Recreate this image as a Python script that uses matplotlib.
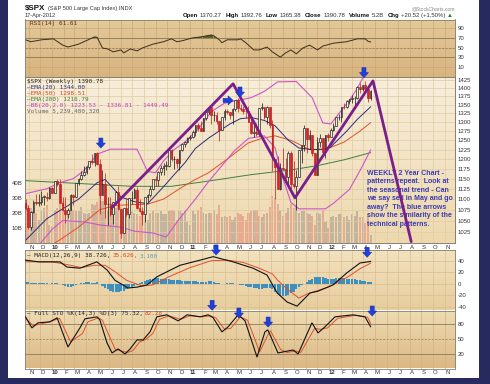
import numpy as np
import pandas as pd
import matplotlib
matplotlib.use('Agg')
import matplotlib.pyplot as plt
from matplotlib.patches import Rectangle, Polygon
from matplotlib.colors import LinearSegmentedColormap
from matplotlib.ticker import NullLocator
from matplotlib.transforms import IdentityTransform

plt.rcParams['font.family'] = ['Liberation Sans', 'DejaVu Sans']

W, H = 490, 384

# weekly bars, first week ends 23-Oct-2009, last bar is 17-Apr-2012
opens = [1090, 1080, 1036, 1069, 1093, 1091, 1092, 1106, 1106, 1102,
         1127, 1115, 1144, 1136, 1091, 1074, 1066, 1075, 1109, 1104,
         1138, 1150, 1160, 1167, 1179, 1194, 1192, 1217, 1187, 1111,
         1136, 1088, 1089, 1065, 1092, 1117, 1076, 1023, 1078, 1065,
         1102, 1102, 1122, 1079, 1071, 1065, 1105, 1110, 1125, 1149,
         1146, 1166, 1176, 1183, 1183, 1225, 1200, 1200, 1190, 1225,
         1240, 1244, 1257, 1258, 1272, 1293, 1283, 1276, 1311, 1329,
         1343, 1320, 1321, 1304, 1279, 1314, 1332, 1329, 1320, 1338,
         1364, 1340, 1338, 1333, 1331, 1300, 1271, 1272, 1268, 1340,
         1344, 1316, 1345, 1292, 1199, 1179, 1124, 1177, 1174, 1154,
         1216, 1136, 1131, 1155, 1225, 1238, 1285, 1253, 1263, 1216,
         1159, 1244, 1255, 1219, 1265, 1258, 1278, 1289, 1315, 1316,
         1345, 1343, 1361, 1366, 1370, 1371, 1404, 1397, 1408, 1398,
         1370]
highs = [1101, 1085, 1071, 1097, 1113, 1112, 1120, 1110, 1117, 1130,
         1130, 1145, 1150, 1150, 1104, 1104, 1080, 1112, 1112, 1139,
         1151, 1170, 1181, 1181, 1195, 1214, 1217, 1219, 1200, 1173,
         1163, 1104, 1106, 1092, 1120, 1131, 1076, 1078, 1100, 1103,
         1120, 1128, 1129, 1100, 1082, 1105, 1112, 1131, 1149, 1157,
         1168, 1184, 1190, 1196, 1227, 1227, 1207, 1204, 1225, 1241,
         1247, 1258, 1265, 1278, 1293, 1297, 1302, 1311, 1331, 1344,
         1343, 1332, 1330, 1304, 1314, 1337, 1339, 1330, 1341, 1364,
         1371, 1352, 1346, 1334, 1346, 1312, 1293, 1298, 1341, 1356,
         1344, 1347, 1345, 1307, 1199, 1208, 1190, 1230, 1204, 1220,
         1220, 1195, 1171, 1225, 1238, 1293, 1285, 1277, 1265, 1216,
         1260, 1267, 1255, 1265, 1269, 1285, 1297, 1316, 1322, 1345,
         1354, 1363, 1368, 1378, 1375, 1405, 1415, 1409, 1422, 1398,
         1393]
lows = [1075, 1030, 1029, 1068, 1086, 1083, 1086, 1086, 1096, 1100,
        1115, 1115, 1131, 1090, 1071, 1044, 1056, 1075, 1086, 1104,
        1135, 1147, 1156, 1162, 1175, 1186, 1183, 1185, 1065, 1110,
        1056, 1040, 1060, 1042, 1092, 1074, 1011, 1023, 1061, 1056,
        1088, 1102, 1076, 1069, 1040, 1047, 1093, 1105, 1121, 1131,
        1132, 1159, 1159, 1171, 1180, 1194, 1174, 1177, 1173, 1220,
        1232, 1242, 1252, 1257, 1262, 1276, 1275, 1276, 1305, 1324,
        1294, 1302, 1294, 1249, 1279, 1305, 1322, 1309, 1295, 1331,
        1330, 1332, 1324, 1311, 1300, 1267, 1258, 1262, 1262, 1334,
        1309, 1296, 1283, 1168, 1101, 1124, 1121, 1174, 1150, 1136,
        1114, 1128, 1075, 1155, 1191, 1221, 1215, 1226, 1209, 1158,
        1159, 1231, 1209, 1202, 1248, 1258, 1275, 1289, 1306, 1300,
        1337, 1340, 1352, 1355, 1340, 1366, 1386, 1391, 1392, 1357,
        1365]
closes = [1080, 1036, 1069, 1093, 1091, 1092, 1106, 1106, 1102, 1127,
          1115, 1144, 1136, 1091, 1074, 1066, 1075, 1109, 1104, 1138,
          1150, 1160, 1167, 1179, 1194, 1192, 1217, 1187, 1111, 1136,
          1088, 1089, 1065, 1092, 1117, 1076, 1023, 1078, 1065, 1102,
          1102, 1122, 1079, 1071, 1065, 1105, 1110, 1125, 1149, 1146,
          1166, 1176, 1183, 1183, 1225, 1200, 1200, 1190, 1225, 1240,
          1244, 1257, 1258, 1272, 1293, 1283, 1276, 1311, 1329, 1343,
          1320, 1321, 1304, 1279, 1314, 1332, 1329, 1320, 1338, 1364,
          1340, 1338, 1333, 1331, 1300, 1271, 1272, 1268, 1340, 1344,
          1316, 1345, 1292, 1199, 1179, 1124, 1177, 1174, 1154, 1216,
          1136, 1131, 1155, 1225, 1238, 1285, 1253, 1263, 1216, 1159,
          1244, 1255, 1219, 1265, 1258, 1278, 1289, 1315, 1316, 1345,
          1343, 1361, 1366, 1370, 1371, 1404, 1397, 1408, 1398, 1370,
          1391]
# weekly volume, billions
volume_b = [22, 25, 23, 21, 20, 15, 22, 23, 25, 12,
            11, 22, 23, 26, 28, 27, 22, 21, 22, 21,
            21, 24, 20, 19, 20, 26, 25, 27, 32, 28,
            30, 22, 24, 24, 23, 25, 24, 18, 23, 22,
            21, 20, 19, 18, 20, 18, 15, 20, 21, 20,
            20, 21, 19, 19, 21, 22, 21, 15, 21, 20,
            21, 14, 12, 21, 19, 22, 24, 20, 19, 20,
            20, 21, 19, 25, 17, 18, 17, 18, 15, 17,
            20, 19, 18, 15, 20, 21, 22, 22, 18, 17,
            19, 20, 24, 31, 30, 26, 22, 18, 20, 23,
            26, 23, 25, 20, 21, 21, 20, 19, 18, 12,
            20, 19, 22, 14, 10, 17, 18, 17, 19, 19,
            17, 18, 15, 19, 18, 21, 17, 17, 13, 19,
            5.2]

# overlays as (week, value)
ema20 = [(0, 1006), (8, 1054), (14, 1077), (20, 1100), (27, 1140), (30, 1148), (36, 1105),
         (41, 1094), (46, 1089), (52, 1130), (56, 1160), (60, 1190), (64, 1228), (69, 1256),
         (77, 1295), (81, 1310), (85, 1313), (90, 1305), (94, 1290), (99, 1250), (103, 1229),
         (108, 1225), (112, 1226), (115, 1232), (121, 1275), (125, 1308), (130, 1344)]
ema50 = [(0, 962), (13, 1007), (20, 1035), (28, 1075), (34, 1085), (40, 1087), (46, 1088),
         (52, 1100), (58, 1125), (64, 1148), (69, 1165), (76, 1200), (84, 1243), (89, 1255),
         (94, 1262), (100, 1250), (107, 1225), (113, 1225), (120, 1245), (126, 1275), (130, 1298.5)]
ema200 = [(0, 1145), (20, 1138), (40, 1131), (55, 1131), (70, 1145), (85, 1160), (100, 1172),
          (110, 1183), (120, 1198), (130, 1216.8)]
bb_upper = [(0, 1113), (8, 1125), (13, 1140), (18, 1150), (22, 1170), (25, 1195), (27, 1213),
            (32, 1226), (42, 1226), (46, 1168), (49, 1165), (52, 1195), (56, 1225), (60, 1245),
            (65, 1280), (70, 1330), (75, 1355), (80, 1363), (85, 1371), (90, 1390), (95, 1419),
            (102, 1420), (108, 1371), (112, 1298), (115, 1295), (118, 1324), (122, 1363),
            (125, 1399), (127, 1430), (130, 1449.5)]
bb_lower = [(0, 960), (5, 995), (10, 1030), (14, 1050), (22, 1047), (28, 1040), (36, 1035),
            (41, 1026), (48, 1022), (53, 1013), (58, 1054), (64, 1100), (69, 1143), (78.6, 1221),
            (84, 1255), (90, 1262), (94, 1230), (97, 1150), (100, 1092), (103, 1077), (113, 1077),
            (116, 1090), (122, 1123), (126, 1170), (130, 1223.5)]

rsi = [(0, 66), (2, 62), (6, 66), (10.5, 68), (14, 55), (16, 51), (20, 57), (26, 72), (27, 71),
       (29, 49), (31, 47), (33, 41), (36, 45), (37, 39), (39.5, 47), (42, 43), (44, 49), (48, 57),
       (52, 62), (55, 68), (57, 62), (59, 64), (63, 70), (66, 72), (68, 74), (70, 76), (71, 74),
       (73, 66), (74, 60), (76, 66), (80, 66), (81, 68), (83, 60), (86, 45), (88, 45), (91, 51),
       (93, 41), (96, 30), (98, 39), (100, 45), (102, 37), (104.5, 49), (107, 55), (110, 45),
       (112, 53), (116, 59), (121, 62), (125, 68), (128, 68), (129, 63), (130, 61.6)]

macd = [(0, 41), (5, 38), (10, 38), (13, 38), (15.6, 29), (20.5, 27), (26.9, 38), (30.7, 24),
        (33.7, 6), (38.6, -7.5), (42, -6), (45.8, -2), (49.5, 12), (58.2, 32), (65.8, 41),
        (70.7, 47), (78.2, 38), (85.7, 27), (91, 15), (94.8, -16), (98.6, -32), (102.3, -39),
        (107.2, -16), (110.2, -13), (115.9, -2), (121.1, 19), (126, 36), (130, 38.7)]
macd_signal = [(0, 38), (10, 38), (16, 33), (21, 28), (26, 32), (30, 32), (34, 20), (38, 6),
               (44, -4), (48, -2), (54, 12), (62, 28), (70, 40), (76, 41), (82, 37), (88, 27),
               (93, 17), (95, 6), (99, -11), (103, -25), (106, -18), (114, -6), (121.5, 12),
               (126, 26), (130, 35.6)]
macd_hist = [3, 3, 2, 2, 2, 1, 1, 1, 1, 0, 1, 2, 2,
             0, -2, -4, -5, -5, -4, -3, -1,
             1, 2, 3, 3, 2, 2, 3,
             0, -4, -7, -10, -12, -14, -15, -15, -13, -12, -10, -8, -6, -4, -2,
             1, 3, 5, 7, 8, 9, 10, 10, 9, 9, 8, 8, 7, 7, 6, 6, 5, 5, 5, 4, 4, 4, 3, 3,
             3, 3, 4, 4, 3, 2, 1, 0, 0, 1, 1, 1,
             0, -1, -2, -3, -4, -5, -6, -7, -8, -9, -9, -8, -7, -7, -10, -14, -18, -21, -22,
             -22, -20, -17, -14, -10, -6, -3, 0,
             3, 6, 9, 11, 12, 12, 11, 10, 9, 9, 9, 10, 10, 10, 10, 9, 9, 8, 8, 7, 6, 5, 4, 3, 3]

sto_k = [(0, 95), (2.4, 73), (4.7, 83), (9.2, 85), (11.9, 93), (16, 35), (20.5, 73), (22.4, 91),
         (26.9, 95), (28, 89), (30.7, 43), (32.6, 23), (34.9, 31), (37.5, 21), (39.4, 31),
         (42, 49), (44.3, 49), (46.9, 65), (49.5, 95), (53.2, 99), (57.5, 87), (60.9, 99),
         (65.8, 95), (68.8, 99), (70.7, 93), (74, 65), (76.3, 75), (80.1, 99), (82.7, 87),
         (87.2, 15), (90.2, 65), (91.3, 69), (95.1, 23), (100.8, 29), (102.7, 21), (107.9, 83),
         (110.2, 63), (112.8, 75), (116.6, 95), (123.4, 99), (127.9, 95), (130, 75.3)]
sto_d = [(0, 92), (2.8, 78), (5.5, 80), (9.5, 86), (12.8, 92), (17, 45), (21.5, 62), (23.5, 85),
         (27.5, 93), (29, 88), (31.7, 55), (33.8, 30), (36, 27), (38.5, 24), (40.5, 28), (43, 45),
         (45.3, 50), (48, 62), (50.5, 90), (54, 97), (58.5, 90), (62, 97), (66.8, 95), (69.8, 97),
         (71.7, 93), (75, 70), (77.3, 72), (81, 95), (83.7, 88), (88.2, 25), (91.2, 58), (92.3, 67),
         (96.1, 30), (98.5, 24), (101.8, 27), (103.7, 24), (108.9, 72), (111.2, 70), (113.8, 73),
         (117.6, 92), (124.4, 98), (128.9, 94), (130, 82.3)]

# hand drawn trend lines (week, price)
trend_wk = [32.6, 78.2, 101.5, 130.9, 145.3]
trend_px = [1080, 1413, 1103, 1422, 1003]

month_lbl = ['N', 'D', '10', 'F', 'M', 'A', 'M', 'J', 'J', 'A', 'S', 'O',
             'N', 'D', '11', 'F', 'M', 'A', 'M', 'J', 'J', 'A', 'S', 'O',
             'N', 'D', '12', 'F', 'M', 'A', 'M', 'J', 'J', 'A', 'S', 'O', 'N']

start = pd.Timestamp('2009-10-23')
months = pd.date_range('2009-11-01', '2012-11-01', freq='MS')
month_pos = np.asarray((months - start).days) / 7.0
XL = (-0.19, 161.8)

x = np.arange(len(closes))
o, hi, lo, c = (np.asarray(v, float) for v in (opens, highs, lows, closes))
down = c < o

fig = plt.figure(figsize=(W / 100, H / 100), dpi=100)
fig.patch.set_facecolor('#262a5e')
fig.add_artist(Rectangle((8 / W, 1 - 378 / H), 471 / W, 378 / H, transform=fig.transFigure,
                         facecolor='white', edgecolor='none', zorder=-5))


def panel(top, bot, c1, c2, ylim, gc, log=False, bg=True):
    ax = fig.add_axes([25 / W, 1 - bot / H, 430 / W, (bot - top) / H])
    if log:
        ax.set_yscale('log')
    ax.set_xlim(XL)
    ax.set_ylim(ylim)
    ax.set_autoscale_on(False)
    if bg:
        cm = LinearSegmentedColormap.from_list('bg', [c1, c2])
        ax.imshow(np.linspace(0, 1, 64).reshape(-1, 1), cmap=cm, extent=[0, 1, 0, 1],
                  transform=ax.transAxes, aspect='auto', zorder=-10)
        ax.set_xticks(month_pos, minor=True)
        ax.grid(which='minor', axis='x', color=gc, lw=0.5, zorder=-5)
    else:
        ax.patch.set_visible(False)
    ax.set_xticks([])
    ax.yaxis.tick_right()
    ax.tick_params(which='both', length=0, labelsize=4.3, colors='#333333', pad=2)
    for s in ax.spines.values():
        s.set_color('#8a7e6c')
        s.set_linewidth(0.6)
    return ax


def month_axis(ax):
    ax.set_xticks(month_pos + 1.0)
    ax.set_xticklabels(month_lbl)
    ax.tick_params(axis='x', pad=1.2, labelsize=4.3, colors='#333333', length=0)
    for t in ax.get_xticklabels():
        if t.get_text().isdigit():
            t.set_fontweight('bold')


def line(ax, pts, **kw):
    a = np.asarray(pts, float)
    ax.plot(a[:, 0], a[:, 1], **kw)


def yticks(ax, vals):
    ax.set_yticks(vals, [str(v) for v in vals])


# RSI panel
ax_rsi = panel(19.5, 77, '#e4c999', '#d8b480', (-11, 108), '#c9a877')
yticks(ax_rsi, [10, 30, 50, 70, 90])
ax_rsi.grid(axis='y', color='#c9a877', lw=0.5)
for lv in (70, 30):
    ax_rsi.axhline(lv, color='#8c7a5c', lw=0.6)
ax_rsi.axhline(50, color='#8c7a5c', lw=0.5, ls=(0, (3, 2)))
r = np.asarray(rsi, float)
ax_rsi.fill_between(r[:, 0], r[:, 1], 70, where=r[:, 1] > 70, interpolate=True, color='#4d5a2a', lw=0)
ax_rsi.plot(r[:, 0], r[:, 1], color='#3a2e1c', lw=0.7)

# price panel: volume underneath, candles on top
ax_vol = panel(77, 243, '#f7eedb', '#eed9ae', (0, 110), '#e0cba4')
ax_vol.yaxis.tick_left()
ax_vol.set_yticks([10, 20, 30, 40], ['10B', '20B', '30B', '40B'])
ax_vol.bar(x, volume_b, width=0.8, color=np.where(down, '#e8a28c', '#bcae9b'), lw=0, alpha=0.85)

ax_px = panel(77, 243, None, None, (1000, 1434), '#e0cba4', log=True, bg=False)
pticks = list(range(1025, 1426, 25))
yticks(ax_px, pticks)
ax_px.yaxis.set_minor_locator(NullLocator())
ax_px.grid(axis='y', color='#e0cba4', lw=0.5, zorder=0)
month_axis(ax_px)

line(ax_px, ema200, color='#3f7f3f', lw=0.7, zorder=2)
line(ax_px, ema50, color='#e0502a', lw=0.7, zorder=2)
line(ax_px, ema20, color='#2a2a80', lw=0.7, zorder=2)
line(ax_px, bb_upper, color='#cc55cc', lw=0.8, zorder=2)
line(ax_px, bb_lower, color='#cc55cc', lw=0.8, zorder=2)

edge = np.where(down, '#c01818', '#111111')
face = np.where(down, '#d8232a', '#f7efdc')
ax_px.vlines(x, lo, hi, colors=edge, lw=0.5, zorder=3)
ax_px.bar(x, np.maximum(np.abs(c - o), 0.8), bottom=np.minimum(o, c), width=0.62,
          color=face, edgecolor=edge, lw=0.45, zorder=4)

ax_px.text(128.7, 1172, 'WEEKLY 2 Year Chart -\npatterns repeat.  Look at\nthe seasonal trend - Can\n'
           'we say sell in May and go\naway?  The blue arrows\nshow the similarity of the\n'
           'technical patterns.', fontsize=5, fontweight='bold', color='#3b3bb3', va='top',
           ha='left', linespacing=1.3, family=['Liberation Sans Narrow', 'Liberation Sans'], zorder=5)
ax_px.plot(trend_wk, trend_px, color='#7a1e8c', lw=2.0, zorder=6, solid_capstyle='round')

# MACD panel
ax_macd = panel(250, 310.5, '#f2e2bf', '#e8cd9d', (-46.6, 58.6), '#d9c096')
yticks(ax_macd, [40, 20, 0, -20, -40])
ax_macd.grid(axis='y', color='#d6bc90', lw=0.5)
ax_macd.bar(x, macd_hist, width=0.85, color='#3d8fc0', lw=0, zorder=2)
line(ax_macd, macd_signal, color='#e0502a', lw=0.7, zorder=3)
line(ax_macd, macd, color='#111111', lw=0.8, zorder=4)

# Full STO panel
ax_sto = panel(310.5, 368.5, '#eedcb3', '#dcb884', (-8, 107.6), '#d2b282')
yticks(ax_sto, [20, 50, 80])
for lv in (80, 20):
    ax_sto.axhline(lv, color='#8c7a5c', lw=0.6)
ax_sto.axhline(50, color='#8c7a5c', lw=0.5, ls=(0, (3, 2)))
line(ax_sto, sto_d, color='#e0502a', lw=0.7, zorder=3)
line(ax_sto, sto_k, color='#111111', lw=0.8, zorder=4)
month_axis(ax_sto)

# blue arrows (week, value) per panel
arrows = [(ax_px, 28.4, 1229, 'down'), (ax_px, 80.8, 1373, 'down'), (ax_px, 78.2, 1363, 'right'),
          (ax_px, 127.5, 1432, 'down'), (ax_macd, 71.8, 50, 'down'), (ax_macd, 128.7, 46, 'down'),
          (ax_sto, 70.3, 108, 'down'), (ax_sto, 80.4, 92.6, 'down'), (ax_sto, 91.4, 74.6, 'down'),
          (ax_sto, 130.6, 96.6, 'down')]
for ax, wx, wy, kind in arrows:
    tx, ty = ax.transData.transform((wx, wy))
    if kind == 'down':
        pts = [(-2, 10), (2, 10), (2, 5), (4.5, 5), (0, 0), (-4.5, 5), (-2, 5)]
    else:
        pts = [(-10, 2), (-10, -2), (-5, -2), (-5, -4.5), (0, 0), (-5, 4.5), (-5, 2)]
    fig.add_artist(Polygon([(tx + dx, ty + dy) for dx, dy in pts], closed=True,
                           transform=IdentityTransform(), facecolor='#1f3fe0',
                           edgecolor='#1530a8', lw=0.4, zorder=20))

# texts
renderer = fig.canvas.get_renderer()


def seq_text(px, py, pieces, size, **kw):
    for piece in pieces:
        s, col, wt, gap = piece[:4]
        sz = piece[4] if len(piece) > 4 else size
        t = fig.text(px / W, 1 - py / H, s, fontsize=sz, color=col, fontweight=wt,
                     va='center', ha='left', zorder=30, **kw)
        px += t.get_window_extent(renderer).width + gap


seq_text(25, 8.5, [('$SPX', '#111111', 'bold', 2.5, 5.8),
                   ('(S&P 500 Large Cap Index) INDX', '#333333', 'normal', 0, 4.1)], 4.1)
fig.text(25 / W, 1 - 15.5 / H, '17-Apr-2012', fontsize=4.1, color='#333333', va='center')
fig.text(455 / W, 1 - 8.5 / H, '@StockCharts.com', fontsize=3.6, color='#888888', va='center', ha='right')
seq_text(183, 15.3, [('Open', '#111111', 'bold', 1.5), ('1370.27', '#333333', 'normal', 4),
                     ('High', '#111111', 'bold', 1.5), ('1392.76', '#333333', 'normal', 4),
                     ('Low', '#111111', 'bold', 1.5), ('1365.38', '#333333', 'normal', 4),
                     ('Close', '#111111', 'bold', 1.5), ('1390.78', '#333333', 'normal', 4),
                     ('Volume', '#111111', 'bold', 1.5), ('5.2B', '#333333', 'normal', 4),
                     ('Chg', '#111111', 'bold', 1.5), ('+20.52 (+1.50%)', '#333333', 'normal', 1.5),
                     ('\u25b2', '#2a7a2a', 'normal', 0)], 4.3)

mono = 'DejaVu Sans Mono'
seq_text(30, 24, [('RSI(14) 61.61', '#6b2a1a', 'normal', 0)], 4.3, family=mono)
legend_rows = [(81, '$SPX (Weekly) 1390.78', '#222222'),
               (87, '\u2014EMA(20) 1344.00', '#2a2a80'),
               (93, '\u2014EMA(50) 1298.51', '#d8481e'),
               (99, '\u2014EMA(200) 1216.79', '#3f7f3f'),
               (105.5, '\u2014BB(20,2.0) 1223.53 - 1336.81 - 1449.49', '#c040c0'),
               (111.5, 'Volume 5,239,480,320', '#666666')]
for yy, s, col in legend_rows:
    seq_text(27, yy, [(s, col, 'normal', 0)], 4.3, family=mono)
seq_text(27, 256, [('\u2014 MACD(12,26,9) 38.726,', '#222222', 'normal', 2),
                   ('35.626,', '#d8481e', 'normal', 2), ('3.100', '#5a9ab0', 'normal', 0)], 4.3, family=mono)
seq_text(27, 313.5, [('\u2014 Full STO %K(14,3) %D(3) 75.32,', '#222222', 'normal', 2),
                     ('82.28', '#d8481e', 'normal', 0)], 4.3, family=mono)

fig.savefig('out.png', dpi=100, facecolor=fig.get_facecolor())
